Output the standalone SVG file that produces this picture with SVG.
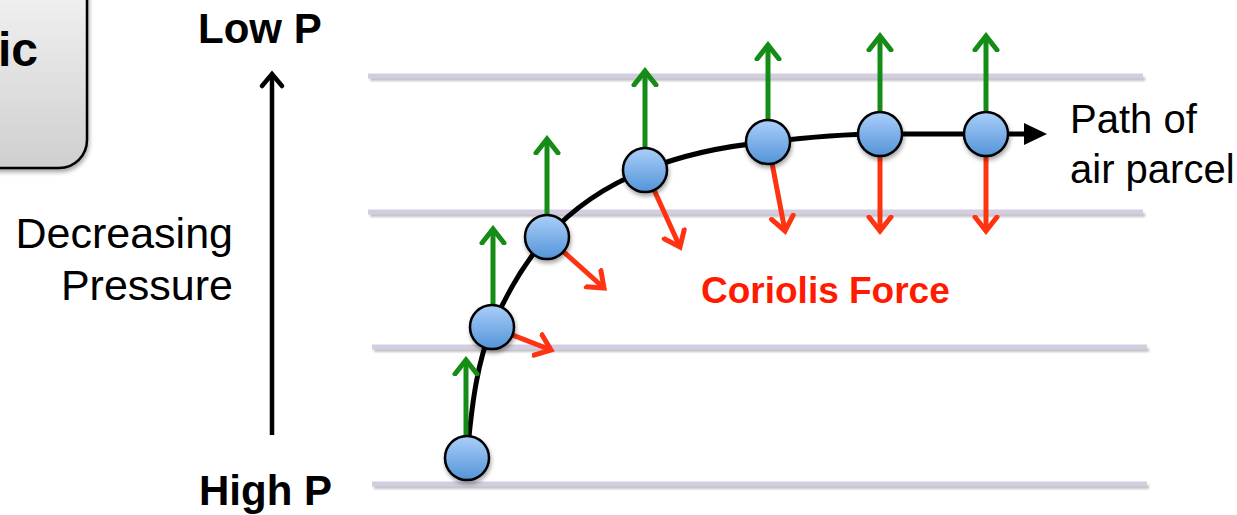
<svg xmlns="http://www.w3.org/2000/svg" width="1237" height="515" viewBox="0 0 1237 515">
<defs>
<linearGradient id="boxg" x1="0" y1="0" x2="0" y2="1"><stop offset="0" stop-color="#f7f7f7"/><stop offset="1" stop-color="#cfcfcf"/></linearGradient>
<linearGradient id="ballg" x1="0" y1="0" x2="0" y2="1"><stop offset="0" stop-color="#aacff9"/><stop offset="1" stop-color="#5394d8"/></linearGradient>
<filter id="sh" x="-20%" y="-20%" width="150%" height="160%"><feDropShadow dx="1" dy="3" stdDeviation="2" flood-color="#000" flood-opacity="0.35"/></filter>
<filter id="blur" filterUnits="userSpaceOnUse" x="0" y="0" width="1237" height="515"><feGaussianBlur stdDeviation="1.2"/></filter>
<marker id="ag" viewBox="-16 -14 20 28" markerWidth="20" markerHeight="28" refX="0" refY="0" orient="auto" markerUnits="userSpaceOnUse"><path d="M-14,-11 L0,0 L-14,11" fill="none" stroke="#158c15" stroke-width="5" stroke-linecap="round" stroke-linejoin="miter"/></marker>
<marker id="ar" viewBox="-16 -14 20 28" markerWidth="20" markerHeight="28" refX="0" refY="0" orient="auto" markerUnits="userSpaceOnUse"><path d="M-14,-11 L0,0 L-14,11" fill="none" stroke="#ff3311" stroke-width="5" stroke-linecap="round" stroke-linejoin="miter"/></marker>
<marker id="ak" viewBox="-16 -14 20 28" markerWidth="20" markerHeight="28" refX="0" refY="0" orient="auto" markerUnits="userSpaceOnUse"><path d="M-12,-10 L0,0 L-12,10" fill="none" stroke="#000" stroke-width="4.5" stroke-linecap="round"/></marker>
<marker id="at" viewBox="0 -12 24 24" markerWidth="24" markerHeight="24" refX="2" refY="0" orient="auto" markerUnits="userSpaceOnUse"><path d="M0,-11 L23,0 L0,11 Z" fill="#000"/></marker>
</defs>
<style>
.iso{stroke:#d4cce0;stroke-width:5}
.isos{stroke:#9a9a9a;stroke-width:4;opacity:0.6;filter:url(#blur)}
.ball{fill:url(#ballg);stroke:#000;stroke-width:2.5;filter:url(#sh)}
.g{stroke:#158c15;stroke-width:5;fill:none;marker-end:url(#ag)}
.r{stroke:#ff3311;stroke-width:5;fill:none;marker-end:url(#ar)}
.t{font-family:"Liberation Sans",Arial,sans-serif;fill:#000}
.b{font-weight:bold}
</style>
<rect width="1237" height="515" fill="#fff"/>
<g id="isobars">
<line class="isos" x1="370" y1="79" x2="1145" y2="79"/>
<line class="isos" x1="370" y1="215" x2="1145" y2="215"/>
<line class="isos" x1="374" y1="350" x2="1149" y2="350"/>
<line class="isos" x1="374" y1="487" x2="1149" y2="487"/>
<line class="iso" x1="368" y1="76" x2="1143" y2="76"/>
<line class="iso" x1="368" y1="212" x2="1143" y2="212"/>
<line class="iso" x1="372" y1="347" x2="1147" y2="347"/>
<line class="iso" x1="372" y1="484" x2="1147" y2="484"/>
</g>
<g id="box">
<rect x="-60" y="-40" width="147" height="208" rx="28" fill="url(#boxg)" stroke="#000" stroke-width="2.5" filter="url(#sh)"/>
<text class="t b" x="-2" y="66" font-size="48">ic</text>
</g>
<g id="labels">
<text class="t b" x="198" y="43" font-size="42">Low P</text>
<text class="t b" x="199" y="505" font-size="42">High P</text>
<text class="t" x="233" y="248" font-size="43" text-anchor="end">Decreasing</text>
<text class="t" x="233" y="300" font-size="43" text-anchor="end">Pressure</text>
<text class="t b" x="701" y="303" font-size="37" style="fill:#ff1a00">Coriolis Force</text>
<text class="t" x="1070" y="133" font-size="40">Path of</text>
<text class="t" x="1070" y="183" font-size="40">air parcel</text>
</g>
<g id="connectors">
<line x1="272" y1="435" x2="272" y2="74" stroke="#000" stroke-width="4.5" marker-end="url(#ak)"/>
<path id="path" d="M467,458 C472,400 478,360 492,327 C508,290 525,262 547,237 C575,206 608,185 645,170 C685,154 725,146 768,142 C810,137 845,134 880,134 L1026,134" fill="none" stroke="#000" stroke-width="5" marker-end="url(#at)"/>
<line class="g" x1="466" y1="440" x2="466" y2="360"/>
<line class="g" x1="493" y1="310" x2="493" y2="229"/>
<line class="g" x1="547" y1="220" x2="547" y2="139"/>
<line class="g" x1="645" y1="153" x2="645" y2="71"/>
<line class="g" x1="768" y1="125" x2="768" y2="45"/>
<line class="g" x1="880" y1="117" x2="880" y2="36"/>
<line class="g" x1="986" y1="117" x2="986" y2="36"/>
<line class="r" x1="492" y1="327" x2="551" y2="350"/>
<line class="r" x1="547" y1="237" x2="604" y2="288"/>
<line class="r" x1="645" y1="170" x2="680" y2="247"/>
<line class="r" x1="768" y1="142" x2="785" y2="231"/>
<line class="r" x1="880" y1="134" x2="880" y2="231"/>
<line class="r" x1="986" y1="134" x2="986" y2="231"/>
</g>
<g id="p1"><circle class="ball" cx="467" cy="458" r="22"/></g>
<g id="p2"><circle class="ball" cx="492" cy="327" r="22"/></g>
<g id="p3"><circle class="ball" cx="547" cy="237" r="22"/></g>
<g id="p4"><circle class="ball" cx="645" cy="170" r="22"/></g>
<g id="p5"><circle class="ball" cx="768" cy="142" r="22"/></g>
<g id="p6"><circle class="ball" cx="880" cy="134" r="22"/></g>
<g id="p7"><circle class="ball" cx="986" cy="134" r="22"/></g>
</svg>
